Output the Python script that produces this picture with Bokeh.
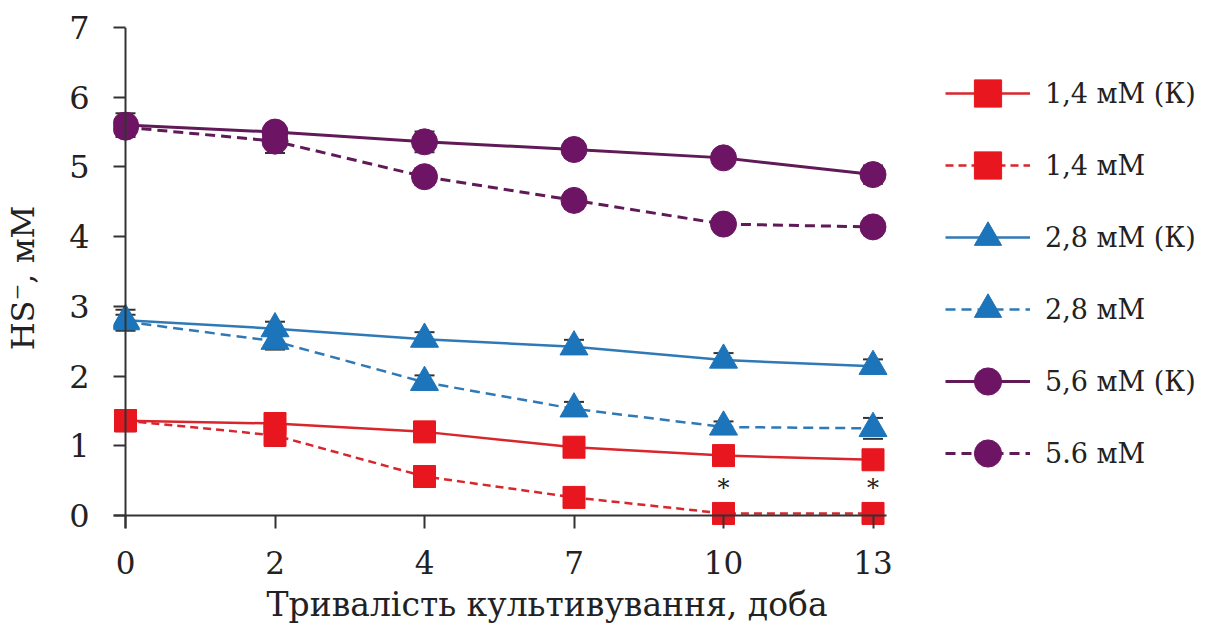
from bokeh.plotting import figure
from bokeh.models import (ColumnDataSource, FixedTicker, Legend, LegendItem, Whisker,
                          TeeHead, Range1d, LinearAxis, Span, Title)
from bokeh.core.properties import value
from bokeh.embed import file_html
from bokeh.resources import INLINE

# ---- data ----
days = ["0", "2", "4", "7", "10", "13"]

c14_k = [1.36, 1.32, 1.20, 0.98, 0.86, 0.80]
c14_k_err = [0.15, 0.15, 0.10, 0.10, 0.10, 0.10]
c14 = [1.36, 1.15, 0.56, 0.26, 0.03, 0.03]
c14_err = [0.10, 0.15, 0.08, 0.10, 0.05, 0.05]

c28_k = [2.80, 2.68, 2.53, 2.42, 2.23, 2.14]
c28_k_err = [0.15, 0.10, 0.10, 0.10, 0.10, 0.10]
c28 = [2.78, 2.50, 1.91, 1.53, 1.27, 1.25]
c28_err = [0.10, 0.12, 0.10, 0.10, 0.08, 0.15]

c56_k = [5.60, 5.50, 5.36, 5.25, 5.13, 4.89]
c56_k_err = [0.17, 0.12, 0.15, 0.12, 0.08, 0.13]
c56 = [5.57, 5.37, 4.86, 4.52, 4.18, 4.14]
c56_err = [0.10, 0.17, 0.12, 0.12, 0.10, 0.12]

star_days = ["10", "13"]
star_y = [0.40, 0.40]

y_ticks = [0, 1, 2, 3, 4, 5, 6, 7]

labels = ["1,4 мМ (К)", "1,4 мМ", "2,8 мМ (К)", "2,8 мМ", "5,6 мМ (К)", "5.6 мМ"]
x_title = "Тривалість культивування, доба"
y_title = "HS⁻, мМ"

# ---- styling ----
FONT = "DejaVu Serif"
TXT = "#222222"
AX = "#333333"
RED, RED_L = "#E8161E", "#D8262C"
BLUE, BLUE_L = "#1C74BA", "#2F79B6"
PURP, PURP_L = "#6E1464", "#5F1A57"

xi = list(range(len(days)))
X0, X1 = -0.0803, 7.224     # frame spans the full width; the legend sits inside it
Y0, Y1 = -0.186, 7.0

p = figure(width=1205, height=634, output_backend="svg", toolbar_location=None,
           x_range=Range1d(X0, X1), y_range=Range1d(Y0, Y1),
           x_axis_type=None, y_axis_type=None,
           min_border_left=113, min_border_right=0, min_border_top=27, min_border_bottom=106)
p.outline_line_color = None
p.background_fill_color = "white"
p.border_fill_color = "white"

xaxis = LinearAxis(ticker=FixedTicker(ticks=xi),
                   major_label_overrides={i: d for i, d in zip(xi, days)})
yaxis = LinearAxis(ticker=FixedTicker(ticks=y_ticks), axis_label=y_title)
for ax in (xaxis, yaxis):
    ax.axis_line_color = None
    ax.major_tick_line_color = AX
    ax.major_tick_line_width = 2
    ax.major_tick_out = 0
    ax.minor_tick_line_color = None
    ax.major_label_text_font = FONT
    ax.major_label_text_font_size = "31px"
    ax.major_label_text_color = TXT
    ax.axis_label_text_font = FONT
    ax.axis_label_text_font_size = "32px"
    ax.axis_label_text_font_style = "normal"
    ax.axis_label_text_color = TXT
yaxis.major_label_text_font_size = "32px"
xaxis.major_tick_in = 13
yaxis.major_tick_in = 12
xaxis.major_label_standoff = 22
yaxis.major_label_standoff = 24
yaxis.axis_label_standoff = 24
p.add_layout(xaxis, "below")
p.add_layout(yaxis, "left")

# x axis line drawn at y = 0, limited to the data part of the frame
xline = LinearAxis(fixed_location=0, bounds=(X0, 5.087), ticker=FixedTicker(ticks=[]),
                   axis_line_color=AX, axis_line_width=2,
                   major_tick_line_color=None, minor_tick_line_color=None,
                   major_label_text_font_size="0px")
p.add_layout(xline, "below")
# y axis line drawn at x = 0
p.add_layout(Span(location=0, dimension="height", line_color=AX, line_width=2))

p.add_layout(Title(text=x_title, align="left", offset=153, standoff=13,
                   text_font=FONT, text_font_size="33px", text_font_style="normal",
                   text_color=TXT), "below")

series = [
    (c14_k, c14_k_err, "square", RED, RED_L, "solid", 22, 2.5),
    (c14, c14_err, "square", RED, RED_L, "8 5", 22, 2.5),
    (c28_k, c28_k_err, "triangle", BLUE, BLUE_L, "solid", 28, 2.5),
    (c28, c28_err, "triangle", BLUE, BLUE_L, "10 6", 28, 2.5),
    (c56_k, c56_k_err, "circle", PURP, PURP_L, "solid", 26, 3),
    (c56, c56_err, "circle", PURP, PURP_L, "10 6", 26, 3),
]

items = []
for (vals, err, marker, col, lcol, dash, size, lw), lab in zip(series, labels):
    src = ColumnDataSource(dict(x=xi, y=vals,
                                up=[v + e for v, e in zip(vals, err)],
                                lo=[v - e for v, e in zip(vals, err)]))
    lr = p.line("x", "y", source=src, line_color=lcol, line_width=lw, line_dash=dash)
    sr = p.scatter("x", "y", source=src, marker=marker, size=size,
                   fill_color=col, line_color=col)
    w = Whisker(base="x", upper="up", lower="lo", source=src, line_alpha=0,
                upper_head=TeeHead(size=20, line_color=AX, line_width=2),
                lower_head=TeeHead(size=20, line_color=AX, line_width=2))
    p.add_layout(w)
    items.append(LegendItem(label=lab, renderers=[lr, sr]))

star_src = ColumnDataSource(dict(x=[days.index(d) for d in star_days], y=star_y,
                                 t=["*"] * len(star_days)))
p.text("x", "y", text="t", source=star_src, text_font=value(FONT), text_font_size="24px",
       text_color=TXT, text_align="center", text_baseline="middle")

legend = Legend(items=items, location=(832, 41), glyph_width=85, glyph_height=68,
                label_standoff=15, spacing=4, padding=0, margin=0,
                border_line_color=None, background_fill_alpha=0,
                label_text_font=FONT, label_text_font_size="27px", label_text_color=TXT)
p.add_layout(legend)

open("out.html", "w").write(file_html(p, INLINE))
